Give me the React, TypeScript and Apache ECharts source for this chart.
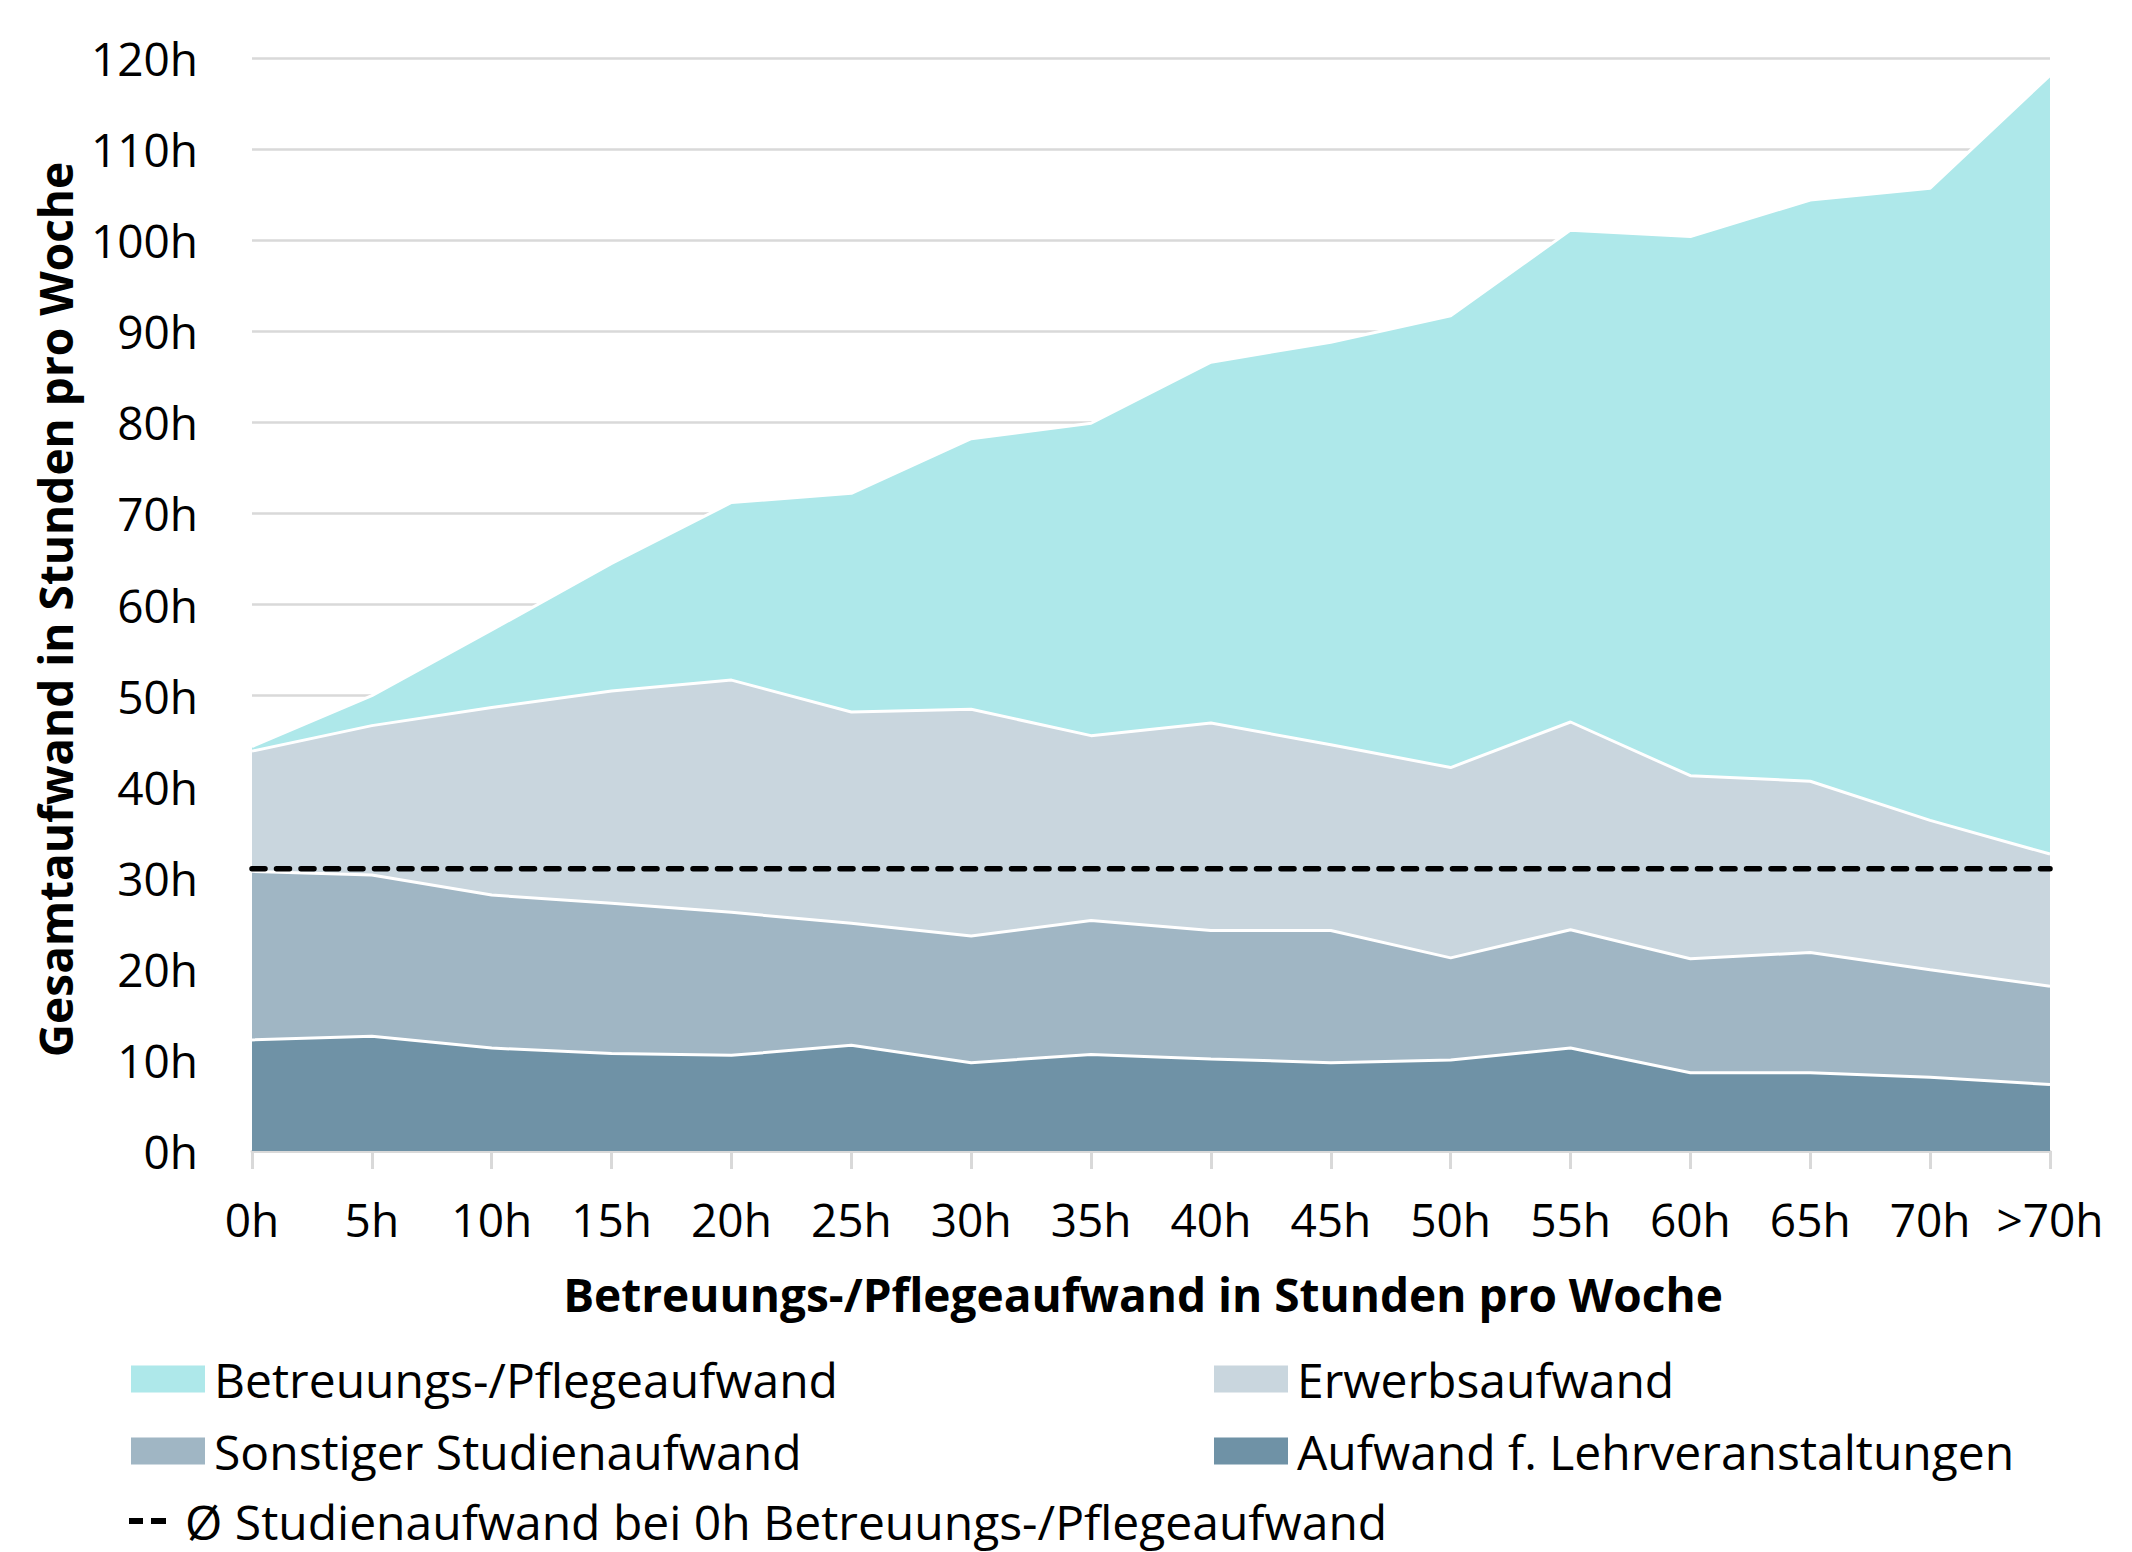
import React, { useEffect, useRef } from "react";
import * as echarts from "echarts";

const categories = ["0h", "5h", "10h", "15h", "20h", "25h", "30h", "35h", "40h", "45h", "50h", "55h", "60h", "65h", "70h", ">70h"];
const lehrveranstaltungen = [12.2, 12.6, 11.3, 10.7, 10.5, 11.6, 9.7, 10.6, 10.1, 9.7, 10.0, 11.3, 8.6, 8.6, 8.1, 7.3];
const sonstigerStudienaufwand = [18.5, 17.7, 16.8, 16.5, 15.7, 13.4, 13.9, 14.7, 14.1, 14.5, 11.2, 13.0, 12.5, 13.2, 11.8, 10.8];
const erwerbsaufwand = [13.2, 16.4, 20.6, 23.3, 25.5, 23.2, 24.9, 20.3, 22.8, 20.4, 20.9, 22.8, 20.1, 18.8, 16.4, 14.5];
const betreuungsaufwand = [0.5, 3.3, 8.5, 14.0, 19.5, 24.0, 29.7, 34.3, 39.6, 44.2, 49.6, 54.0, 59.2, 63.8, 69.4, 85.5];
const avgStudienaufwand0h = 31.0;

const NAME_BETR = "Betreuungs-/Pflegeaufwand";
const NAME_ERW = "Erwerbsaufwand";
const NAME_SONST = "Sonstiger Studienaufwand";
const NAME_LEHR = "Aufwand f. Lehrveranstaltungen";
const NAME_AVG = "Ø Studienaufwand bei 0h Betreuungs-/Pflegeaufwand";

const C_BETR = "#AEE8EA";
const C_ERW = "#C9D6DE";
const C_SONST = "#A0B6C4";
const C_LEHR = "#6F92A6";

const FONT = "'Open Sans', 'Noto Sans', sans-serif";

export default function App() {
  const ref = useRef<HTMLDivElement>(null);
  useEffect(() => {
    if (!ref.current) return;
    const chart = echarts.init(ref.current, null, { renderer: "svg" });
    const areaSeries = (name: string, data: number[], color: string) => ({
      name,
      type: "line",
      stack: "total",
      data,
      showSymbol: false,
      symbol: "none",
      lineStyle: { color: "#ffffff", width: 3 },
      itemStyle: { color },
      areaStyle: { color, opacity: 1 },
      z: 2,
    });
    const legendText = { color: "#000", fontSize: 48, fontFamily: FONT, lineHeight: 52, padding: [0, 0, 0, 4] };
    chart.setOption({
      animation: false,
      backgroundColor: "#ffffff",
      textStyle: { fontFamily: FONT },
      grid: { left: 252, right: 82, top: 58, bottom: 401, containLabel: false },
      xAxis: {
        type: "category",
        data: categories,
        boundaryGap: false,
        axisLine: { show: true, lineStyle: { color: "#D9D9D9", width: 3 } },
        axisTick: { show: true, alignWithLabel: true, length: 18, lineStyle: { color: "#D9D9D9", width: 3 } },
        axisLabel: { color: "#000", fontSize: 46, fontFamily: FONT, margin: 45, interval: 0 },
        splitLine: { show: false },
        name: "Betreuungs-/Pflegeaufwand in Stunden pro Woche",
        nameLocation: "middle",
        nameGap: 120,
        nameTextStyle: { color: "#000", fontSize: 46, fontWeight: "bold", fontFamily: FONT, padding: [0, 16, 0, 0] },
      },
      yAxis: {
        type: "value",
        min: 0,
        max: 120,
        interval: 10,
        axisLine: { show: false },
        axisTick: { show: false },
        axisLabel: { color: "#000", fontSize: 46, fontFamily: FONT, margin: 54, formatter: "{value}h" },
        splitLine: { show: true, lineStyle: { color: "#D9D9D9", width: 2.5 } },
        name: "Gesamtaufwand in Stunden pro Woche",
        nameLocation: "middle",
        nameRotate: 90,
        nameGap: 174,
        nameTextStyle: { color: "#000", fontSize: 46, fontWeight: "bold", fontFamily: FONT, padding: [0, 10, 0, 0] },
      },
      legend: [
        {
          orient: "vertical",
          left: 126,
          top: 1348,
          itemWidth: 74,
          itemHeight: 27,
          itemGap: 20,
          textStyle: legendText,
          itemStyle: { borderWidth: 0 },
          data: [
            { name: NAME_BETR, icon: "rect", itemStyle: { color: C_BETR } },
            { name: NAME_SONST, icon: "rect", itemStyle: { color: C_SONST } },
          ],
        },
        {
          orient: "vertical",
          left: 1209,
          top: 1348,
          itemWidth: 74,
          itemHeight: 27,
          itemGap: 20,
          textStyle: legendText,
          itemStyle: { borderWidth: 0 },
          data: [
            { name: NAME_ERW, icon: "rect", itemStyle: { color: C_ERW } },
            { name: NAME_LEHR, icon: "rect", itemStyle: { color: C_LEHR } },
          ],
        },
        {
          orient: "vertical",
          left: 124,
          top: 1492,
          itemWidth: 37,
          itemHeight: 6,
          textStyle: { ...legendText, lineHeight: 48, padding: [0, 0, 0, 14] },
          itemStyle: { borderWidth: 0 },
          data: [
            {
              name: NAME_AVG,
              icon: "path://M0,0 L14,0 L14,6 L0,6 Z M22,0 L37,0 L37,6 L22,6 Z",
              itemStyle: { color: "#000" },
            },
          ],
        },
      ],
      series: [
        areaSeries(NAME_LEHR, lehrveranstaltungen, C_LEHR),
        areaSeries(NAME_SONST, sonstigerStudienaufwand, C_SONST),
        areaSeries(NAME_ERW, erwerbsaufwand, C_ERW),
        areaSeries(NAME_BETR, betreuungsaufwand, C_BETR),
        {
          name: NAME_AVG,
          type: "line",
          data: categories.map(() => avgStudienaufwand0h),
          showSymbol: false,
          symbol: "none",
          itemStyle: { color: "#000" },
          lineStyle: { color: "#000", width: 5.5, type: [13, 11.5], cap: "round" },
          z: 5,
        },
      ],
    });
    return () => chart.dispose();
  }, []);
  return <div ref={ref} style={{ position: "fixed", left: 0, top: 0, width: 2132, height: 1552 }} />;
}
